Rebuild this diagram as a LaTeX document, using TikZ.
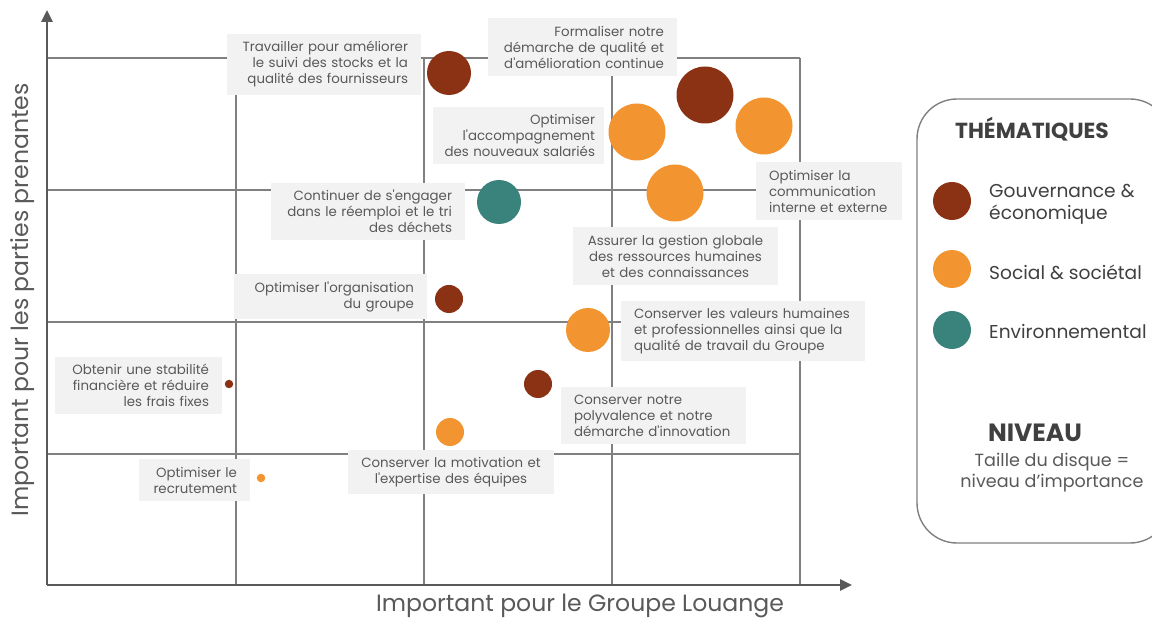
\documentclass[tikz,border=0pt]{standalone}
\usepackage{fontspec}
\setmainfont{Poppins}[Ligatures=TeXOff]
\usetikzlibrary{arrows.meta}
\definecolor{gouv}{RGB}{139,50,20}
\definecolor{soci}{RGB}{242,148,48}
\definecolor{envi}{RGB}{58,130,124}
\definecolor{boxgrey}{RGB}{242,242,242}
\definecolor{textgrey}{RGB}{89,89,89}
\definecolor{darkgrey}{RGB}{64,64,64}
\definecolor{gridgrey}{RGB}{128,128,128}

\begin{document}
\begin{tikzpicture}[x=0.2mm, y=-0.2mm]
    \tikzset{%
      gline/.style={gridgrey, line width=1.1pt},
      axis/.style={textgrey, line width=1.6pt, -{Triangle[length=2.4mm, width=2.2mm]}},
      lbl/.style={fill=boxgrey, text=textgrey, inner xsep=2.6mm, inner ysep=1.5mm,
        font=\fontsize{7.6}{9.1}\selectfont},
      gov/.style={circle, fill=gouv, inner sep=0pt},
      soc/.style={circle, fill=soci, inner sep=0pt},
      env/.style={circle, fill=envi, inner sep=0pt},
      big/.style={minimum size=11.4mm},
      mid/.style={minimum size=8.8mm},
      small/.style={minimum size=5.6mm},
      mini/.style={minimum size=1.7mm},
      legdot/.style={minimum size=7.6mm},
      legtxt/.style={anchor=west, align=left, text=darkgrey,
        font=\fontsize{10.6}{12.5}\selectfont},
    }
    \useasboundingbox (0,0) rectangle (1152,619);

    % grid
    \draw [gline] (47,58) -- (800,58);
    \draw [gline] (47,190) -- (800,190);
    \draw [gline] (47,322) -- (800,322);
    \draw [gline] (47,454) -- (800,454);
    \draw [gline] (236,58) -- (236,585);
    \draw [gline] (424,58) -- (424,585);
    \draw [gline] (612,58) -- (612,585);
    \draw [gline] (800,58) -- (800,585);

    % axes
    \coordinate (O) at (47,585);
    \coordinate (Ytop) at (47,10);
    \coordinate (Xend) at (852,585);
    \draw [axis] (O) -- (Ytop);
    \draw [axis] (O) -- (Xend);
    \node [text=textgrey, font=\fontsize{13.4}{15}\selectfont] (xlab) at (580,606)
      {Important pour le Groupe Louange};
    \node [text=textgrey, font=\fontsize{13.4}{15}\selectfont, rotate=90] (ylab) at (23,300)
      {Important pour les parties prenantes};

    % labels
    \node [lbl, text width=33.6mm, align=right] (lstock) at (324,64.5)
      {Travailler pour améliorer\\le suivi des stocks et la\\qualité des fournisseurs};
    \node [lbl, text width=32.6mm, align=right] (lqual) at (582.5,47)
      {Formaliser notre\\démarche de qualité et\\d'amélioration continue};
    \node [lbl, text width=30.6mm, inner xsep=1.8mm, align=right] (laccomp) at (518.5,135.5)
      {Optimiser\\l'accompagnement\\des nouveaux salariés};
    \node [lbl, text width=24mm, align=left] (lcomm) at (829,191)
      {Optimiser la\\communication\\interne et externe};
    \node [lbl, text width=35.8mm, align=center] (lrh) at (675.5,256)
      {Assurer la gestion globale\\des ressources humaines\\et des connaissances};
    \node [lbl, text width=33.6mm, align=right] (ldechets) at (368,211.5)
      {Continuer de s'engager\\dans le réemploi et le tri\\des déchets};
    \node [lbl, text width=33.4mm, align=right] (lorga) at (330.5,296.5)
      {Optimiser l'organisation\\du groupe};
    \node [lbl, text width=43.6mm, align=left] (lvaleurs) at (743,331)
      {Conserver les valeurs humaines\\et professionnelles ainsi que la\\qualité de travail du Groupe};
    \node [lbl, text width=31.8mm, align=left] (lpoly) at (653.5,415.5)
      {Conserver notre\\polyvalence et notre\\démarche d'innovation};
    \node [lbl, text width=36mm, align=center] (lmotiv) at (451,472)
      {Conserver la motivation et\\l'expertise des équipes};
    \node [lbl, text width=28.2mm, align=right] (lfinance) at (138.5,385.5)
      {Obtenir une stabilité\\financière et réduire\\les frais fixes};
    \node [lbl, text width=17mm, align=right] (lrecrut) at (194.5,480)
      {Optimiser le\\recrutement};

    % bubbles
    \node [gov, mid] (stock) at (449,73) {};
    \node [gov, big] (qual) at (705,95) {};
    \node [soc, big] (accomp) at (637,132) {};
    \node [soc, big] (comm) at (764,126) {};
    \node [soc, big] (rh) at (675,193) {};
    \node [env, mid] (dechets) at (499,202) {};
    \node [gov, small] (orga) at (449,299) {};
    \node [soc, mid] (valeurs) at (588,330) {};
    \node [gov, small] (poly) at (538,384) {};
    \node [soc, small] (motiv) at (450,432) {};
    \node [gov, mini] (finance) at (229,384) {};
    \node [soc, mini] (recrut) at (261,478) {};

    % legend
    \begin{scope}
      \clip (0,0) rectangle (1152,619);
      \draw [gridgrey, line width=0.8pt, rounded corners=8mm] (917,99) rectangle (1170,543);
    \end{scope}
    \node [text=darkgrey, font=\fontsize{12.4}{14}\selectfont\bfseries] (theme) at (1032,129)
      {THÉMATIQUES};
    \node [gov, legdot] (kgov) at (952,201) {};
    \node [soc, legdot] (ksoc) at (952,269) {};
    \node [env, legdot] (kenv) at (952,330) {};
    \node [legtxt] (tgov) at (983,204) {Gouvernance \&\\économique};
    \node [legtxt] (tsoc) at (983,272) {Social \& sociétal};
    \node [legtxt] (tenv) at (983,331) {Environnemental};
    \node [text=darkgrey, font=\fontsize{14.2}{16}\selectfont\bfseries] (niveau) at (1035,433)
      {NIVEAU};
    \node [text=textgrey, align=center, font=\fontsize{10}{12}\selectfont] (taille) at (1052,473)
      {Taille du disque =\\niveau d’importance};
\end{tikzpicture}
\end{document}
